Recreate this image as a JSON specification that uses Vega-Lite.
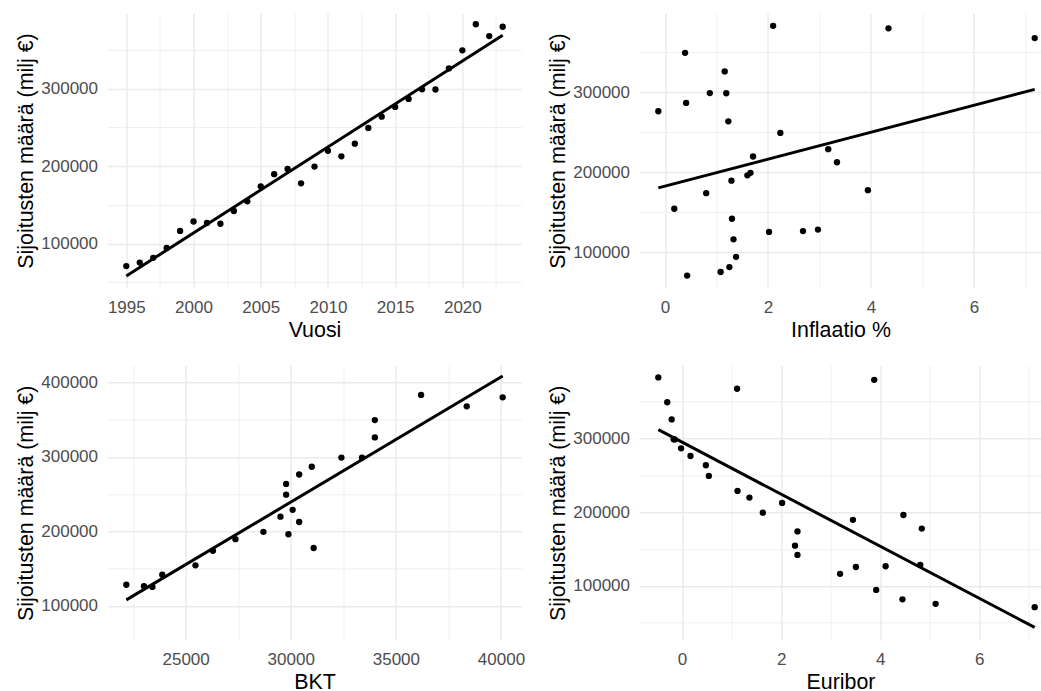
{
  "$schema": "https://vega.github.io/schema/vega-lite/v6.json",
  "background": "white",
  "padding": {"left": 15.5, "top": 13, "right": 0, "bottom": 0},
  "bounds": "flush",
  "columns": 2,
  "spacing": {"row": 77.3, "column": 118},
  "data": {"values": [
    {"Vuosi": 1995, "Sijoitukset": 71000, "Inflaatio": 0.43, "BKT": null, "Euribor": 7.12},
    {"Vuosi": 1996, "Sijoitukset": 75500, "Inflaatio": 1.08, "BKT": null, "Euribor": 5.12},
    {"Vuosi": 1997, "Sijoitukset": 81600, "Inflaatio": 1.25, "BKT": null, "Euribor": 4.45},
    {"Vuosi": 1998, "Sijoitukset": 94400, "Inflaatio": 1.38, "BKT": null, "Euribor": 3.92},
    {"Vuosi": 1999, "Sijoitukset": 116300, "Inflaatio": 1.33, "BKT": null, "Euribor": 3.19},
    {"Vuosi": 2000, "Sijoitukset": 128500, "Inflaatio": 2.97, "BKT": 22180, "Euribor": 4.81},
    {"Vuosi": 2001, "Sijoitukset": 126600, "Inflaatio": 2.68, "BKT": 23020, "Euribor": 4.11},
    {"Vuosi": 2002, "Sijoitukset": 125600, "Inflaatio": 2.02, "BKT": 23420, "Euribor": 3.51},
    {"Vuosi": 2003, "Sijoitukset": 142000, "Inflaatio": 1.30, "BKT": 23890, "Euribor": 2.33},
    {"Vuosi": 2004, "Sijoitukset": 154500, "Inflaatio": 0.18, "BKT": 25470, "Euribor": 2.28},
    {"Vuosi": 2005, "Sijoitukset": 173900, "Inflaatio": 0.80, "BKT": 26300, "Euribor": 2.33},
    {"Vuosi": 2006, "Sijoitukset": 189600, "Inflaatio": 1.29, "BKT": 27370, "Euribor": 3.45},
    {"Vuosi": 2007, "Sijoitukset": 196200, "Inflaatio": 1.60, "BKT": 29890, "Euribor": 4.47},
    {"Vuosi": 2008, "Sijoitukset": 177700, "Inflaatio": 3.94, "BKT": 31090, "Euribor": 4.84},
    {"Vuosi": 2009, "Sijoitukset": 199400, "Inflaatio": 1.66, "BKT": 28700, "Euribor": 1.63},
    {"Vuosi": 2010, "Sijoitukset": 219800, "Inflaatio": 1.71, "BKT": 29510, "Euribor": 1.36},
    {"Vuosi": 2011, "Sijoitukset": 212600, "Inflaatio": 3.34, "BKT": 30400, "Euribor": 2.02},
    {"Vuosi": 2012, "Sijoitukset": 228900, "Inflaatio": 3.17, "BKT": 30090, "Euribor": 1.12},
    {"Vuosi": 2013, "Sijoitukset": 249200, "Inflaatio": 2.24, "BKT": 29780, "Euribor": 0.54},
    {"Vuosi": 2014, "Sijoitukset": 263700, "Inflaatio": 1.23, "BKT": 29780, "Euribor": 0.48},
    {"Vuosi": 2015, "Sijoitukset": 276300, "Inflaatio": -0.13, "BKT": 30400, "Euribor": 0.17},
    {"Vuosi": 2016, "Sijoitukset": 286700, "Inflaatio": 0.41, "BKT": 31000, "Euribor": -0.02},
    {"Vuosi": 2017, "Sijoitukset": 299000, "Inflaatio": 0.87, "BKT": 32410, "Euribor": -0.17},
    {"Vuosi": 2018, "Sijoitukset": 298800, "Inflaatio": 1.19, "BKT": 33390, "Euribor": -0.15},
    {"Vuosi": 2019, "Sijoitukset": 326000, "Inflaatio": 1.16, "BKT": 34000, "Euribor": -0.21},
    {"Vuosi": 2020, "Sijoitukset": 349300, "Inflaatio": 0.39, "BKT": 34000, "Euribor": -0.30},
    {"Vuosi": 2021, "Sijoitukset": 383000, "Inflaatio": 2.10, "BKT": 36200, "Euribor": -0.48},
    {"Vuosi": 2022, "Sijoitukset": 367700, "Inflaatio": 7.18, "BKT": 38370, "Euribor": 1.11},
    {"Vuosi": 2023, "Sijoitukset": 379800, "Inflaatio": 4.34, "BKT": 40080, "Euribor": 3.88}
  ]},
  "config": {
    "view": {"stroke": null},
    "axis": {
      "domain": false,
      "ticks": false,
      "tickSize": 0,
      "labelFont": "Liberation Sans",
      "labelFontSize": 17,
      "labelColor": "#4D4D4D",
      "titleFont": "Liberation Sans",
      "titleFontSize": 21.4,
      "titleFontWeight": "normal",
      "titleColor": "#000000",
      "gridColor": "#EBEBEB",
      "labelOverlap": false,
      "labelFlush": false,
      "labelBound": false
    },
    "axisX": {"labelPadding": 11, "titlePadding": 4},
    "axisY": {"labelPadding": 10, "titlePadding": 4}
  },
  "concat": [
    {
      "width": 414, "height": 275,
      "encoding": {
        "x": {"field": "Vuosi", "type": "quantitative",
          "scale": {"domain": [1993.6, 2024.4], "nice": false, "zero": false},
          "axis": {"title": "Vuosi", "values": [1995, 1997.5, 2000, 2002.5, 2005, 2007.5, 2010, 2012.5, 2015, 2017.5, 2020, 2022.5],
            "labelExpr": "datum.value % 5 === 0 ? format(datum.value, 'd') : ''",
            "gridWidth": {"condition": {"test": "datum.value % 5 === 0", "value": 1.5}, "value": 0.75}}},
        "y": {"field": "Sijoitukset", "type": "quantitative",
          "scale": {"domain": [42700, 397500], "nice": false, "zero": false},
          "axis": {"title": "Sijoitusten määrä (milj €)", "values": [50000, 100000, 150000, 200000, 250000, 300000, 350000],
            "labelExpr": "datum.value % 100000 === 0 ? format(datum.value, 'd') : ''",
            "gridWidth": {"condition": {"test": "datum.value % 100000 === 0", "value": 1.5}, "value": 0.75}}}
      },
      "layer": [
        {"mark": {"type": "circle", "size": 40, "color": "black", "opacity": 1}},
        {"transform": [{"regression": "Sijoitukset", "on": "Vuosi"}],
         "mark": {"type": "line", "color": "black", "strokeWidth": 3}}
      ]
    },
    {
      "width": 402, "height": 275,
      "encoding": {
        "x": {"field": "Inflaatio", "type": "quantitative",
          "scale": {"domain": [-0.4955, 7.312], "nice": false, "zero": false},
          "axis": {"title": "Inflaatio %", "values": [0, 1, 2, 3, 4, 5, 6, 7],
            "labelExpr": "datum.value % 2 === 0 ? format(datum.value, 'd') : ''",
            "gridWidth": {"condition": {"test": "datum.value % 2 === 0", "value": 1.5}, "value": 0.75}}},
        "y": {"field": "Sijoitukset", "type": "quantitative",
          "scale": {"domain": [55500, 399000], "nice": false, "zero": false},
          "axis": {"title": "Sijoitusten määrä (milj €)", "values": [100000, 150000, 200000, 250000, 300000, 350000],
            "labelExpr": "datum.value % 100000 === 0 ? format(datum.value, 'd') : ''",
            "gridWidth": {"condition": {"test": "datum.value % 100000 === 0", "value": 1.5}, "value": 0.75}}}
      },
      "layer": [
        {"mark": {"type": "circle", "size": 40, "color": "black", "opacity": 1}},
        {"transform": [{"regression": "Sijoitukset", "on": "Inflaatio"}],
         "mark": {"type": "line", "color": "black", "strokeWidth": 3}}
      ]
    },
    {
      "width": 414, "height": 275,
      "encoding": {
        "x": {"field": "BKT", "type": "quantitative",
          "scale": {"domain": [21285, 40975], "nice": false, "zero": false},
          "axis": {"title": "BKT", "values": [22500, 25000, 27500, 30000, 32500, 35000, 37500, 40000],
            "labelExpr": "datum.value % 5000 === 0 ? format(datum.value, 'd') : ''",
            "gridWidth": {"condition": {"test": "datum.value % 5000 === 0", "value": 1.5}, "value": 0.75}}},
        "y": {"field": "Sijoitukset", "type": "quantitative",
          "scale": {"domain": [54000, 422700], "nice": false, "zero": false},
          "axis": {"title": "Sijoitusten määrä (milj €)", "values": [100000, 150000, 200000, 250000, 300000, 350000, 400000],
            "labelExpr": "datum.value % 100000 === 0 ? format(datum.value, 'd') : ''",
            "gridWidth": {"condition": {"test": "datum.value % 100000 === 0", "value": 1.5}, "value": 0.75}}}
      },
      "layer": [
        {"mark": {"type": "circle", "size": 40, "color": "black", "opacity": 1}},
        {"transform": [{"regression": "Sijoitukset", "on": "BKT"}],
         "mark": {"type": "line", "color": "black", "strokeWidth": 3}}
      ]
    },
    {
      "width": 402, "height": 275,
      "encoding": {
        "x": {"field": "Euribor", "type": "quantitative",
          "scale": {"domain": [-0.86, 7.258], "nice": false, "zero": false},
          "axis": {"title": "Euribor", "values": [0, 1, 2, 3, 4, 5, 6, 7],
            "labelExpr": "datum.value % 2 === 0 ? format(datum.value, 'd') : ''",
            "gridWidth": {"condition": {"test": "datum.value % 2 === 0", "value": 1.5}, "value": 0.75}}},
        "y": {"field": "Sijoitukset", "type": "quantitative",
          "scale": {"domain": [26000, 399500], "nice": false, "zero": false},
          "axis": {"title": "Sijoitusten määrä (milj €)", "values": [50000, 100000, 150000, 200000, 250000, 300000, 350000],
            "labelExpr": "datum.value % 100000 === 0 ? format(datum.value, 'd') : ''",
            "gridWidth": {"condition": {"test": "datum.value % 100000 === 0", "value": 1.5}, "value": 0.75}}}
      },
      "layer": [
        {"mark": {"type": "circle", "size": 40, "color": "black", "opacity": 1}},
        {"transform": [{"regression": "Sijoitukset", "on": "Euribor"}],
         "mark": {"type": "line", "color": "black", "strokeWidth": 3}}
      ]
    }
  ]
}
